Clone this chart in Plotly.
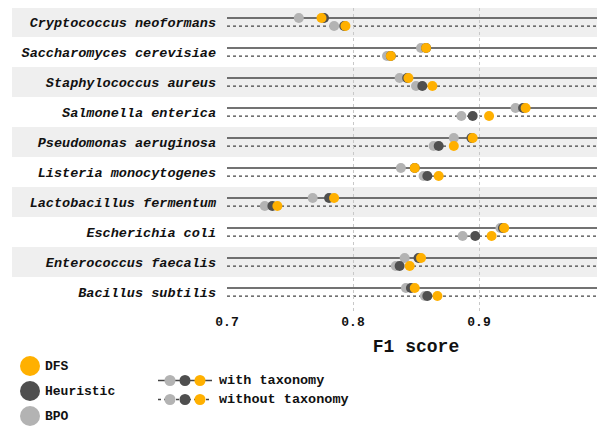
import plotly.graph_objects as go

species = [
    "Cryptococcus neoformans", "Saccharomyces cerevisiae", "Staphylococcus aureus",
    "Salmonella enterica", "Pseudomonas aeruginosa", "Listeria monocytogenes",
    "Lactobacillus fermentum", "Escherichia coli", "Enterococcus faecalis",
    "Bacillus subtilis",
]
# with taxonomy
bpo_tax = [0.757, 0.854, 0.837, 0.929, 0.880, 0.838, 0.768, 0.917, 0.841, 0.842]
heu_tax = [0.777, 0.858, 0.843, 0.935, 0.894, 0.849, 0.781, 0.919, 0.852, 0.846]
dfs_tax = [0.775, 0.858, 0.844, 0.937, 0.895, 0.849, 0.785, 0.920, 0.854, 0.849]
# without taxonomy
bpo_no = [0.785, 0.827, 0.850, 0.886, 0.864, 0.856, 0.730, 0.887, 0.834, 0.857]
heu_no = [0.793, 0.830, 0.855, 0.895, 0.868, 0.859, 0.736, 0.897, 0.837, 0.859]
dfs_no = [0.794, 0.830, 0.863, 0.908, 0.880, 0.868, 0.740, 0.910, 0.845, 0.867]

x_ticks = [0.7, 0.8, 0.9, 1.0]
x_ticklabels = ["0.7", "0.8", "0.9", "1"]

C_DFS = "#FFB000"
C_HEU = "#4f4f4f"
C_BPO = "#b3b3b3"
LINE = "#444444"
TXT = "#111111"
FONT = "Liberation Mono"
OFF = 0.135

idx = list(range(len(species)))
fig = go.Figure()

def add(vals, color, off):
    fig.add_trace(go.Scatter(
        x=vals, y=[i + off for i in idx], mode="markers",
        marker=dict(color=color, size=10, line=dict(width=0)),
        showlegend=False, hoverinfo="x", cliponaxis=False))

# page is offset by 8px body margin; figure sized to fit the window
PAD = 8
W, H = 597, 418
L, R, T, B = 219, 0, 0, 114
pw, ph = W - L - R, H - T - B
def px(x): return (x - PAD - L) / pw
def py(y): return (H - B - (y - PAD)) / ph

shapes = []
for i in idx:
    if i % 2 == 0:
        shapes.append(dict(type="rect", xref="paper", yref="y", x0=px(12), x1=1,
                           y0=i - 0.5, y1=i + 0.5, fillcolor="#efefef",
                           line=dict(width=0), layer="below"))
    shapes.append(dict(type="line", xref="paper", yref="y", x0=0, x1=1,
                       y0=i - OFF, y1=i - OFF, line=dict(color=LINE, width=1.5),
                       layer="below"))
    shapes.append(dict(type="line", xref="paper", yref="y", x0=0, x1=1,
                       y0=i + OFF, y1=i + OFF,
                       line=dict(color=LINE, width=1.3, dash="dot"), layer="below"))

for vals, c in [(bpo_tax, C_BPO), (heu_tax, C_HEU), (dfs_tax, C_DFS)]:
    add(vals, c, -OFF)
for vals, c in [(bpo_no, C_BPO), (heu_no, C_HEU), (dfs_no, C_DFS)]:
    add(vals, c, OFF)

annotations = []
for (label, color, yc) in [("DFS", C_DFS, 366), ("Heuristic", C_HEU, 391), ("BPO", C_BPO, 416)]:
    shapes.append(dict(type="circle", xref="paper", yref="paper",
                       x0=px(20), x1=px(40), y0=py(yc + 10), y1=py(yc - 10),
                       fillcolor=color, line=dict(width=0)))
    annotations.append(dict(text=label, xref="paper", yref="paper", x=px(43), y=py(yc),
                            xanchor="left", yanchor="middle", showarrow=False,
                            font=dict(family=FONT, size=13, color=TXT, weight="bold")))

for (label, yc, dash) in [("with taxonomy", 380.5, "solid"), ("without taxonomy", 399.5, "dot")]:
    shapes.append(dict(type="line", xref="paper", yref="paper", x0=px(158), x1=px(212),
                       y0=py(yc), y1=py(yc), line=dict(color=LINE, width=1.3, dash=dash)))
    for cx, col in [(170, C_BPO), (185, C_HEU), (200, C_DFS)]:
        shapes.append(dict(type="circle", xref="paper", yref="paper",
                           x0=px(cx - 5.5), x1=px(cx + 5.5), y0=py(yc + 5.5), y1=py(yc - 5.5),
                           fillcolor=col, line=dict(width=0)))
    annotations.append(dict(text=label, xref="paper", yref="paper", x=px(217), y=py(yc),
                            xanchor="left", yanchor="middle", showarrow=False,
                            font=dict(family=FONT, size=13.5, color=TXT, weight="bold")))

fig.update_layout(
    width=W, height=H,
    margin=dict(l=L, r=R, t=T, b=B, autoexpand=False),
    plot_bgcolor="white", paper_bgcolor="white",
    shapes=shapes, annotations=annotations,
    xaxis=dict(range=[0.7, 1.0], tickvals=x_ticks, ticktext=x_ticklabels,
               showgrid=True, gridcolor="#c8c8c8", griddash="dot", gridwidth=1,
               zeroline=False, showline=False, ticks="", automargin=False,
               ticklabeloverflow="allow",
               tickfont=dict(family=FONT, size=13, color=TXT, weight="bold"),
               title=dict(text="F1 score", standoff=10,
                          font=dict(family=FONT, size=18, color=TXT, weight="bold"))),
    yaxis=dict(range=[9.667, -0.4667], tickvals=idx, ticktext=species,
               showgrid=False, zeroline=False, showline=False, ticks="",
               ticklabelstandoff=10, automargin=False,
               tickfont=dict(family=FONT, size=13.5, color=TXT, weight="bold",
                             style="italic")),
)

fig.write_html("out.html")
